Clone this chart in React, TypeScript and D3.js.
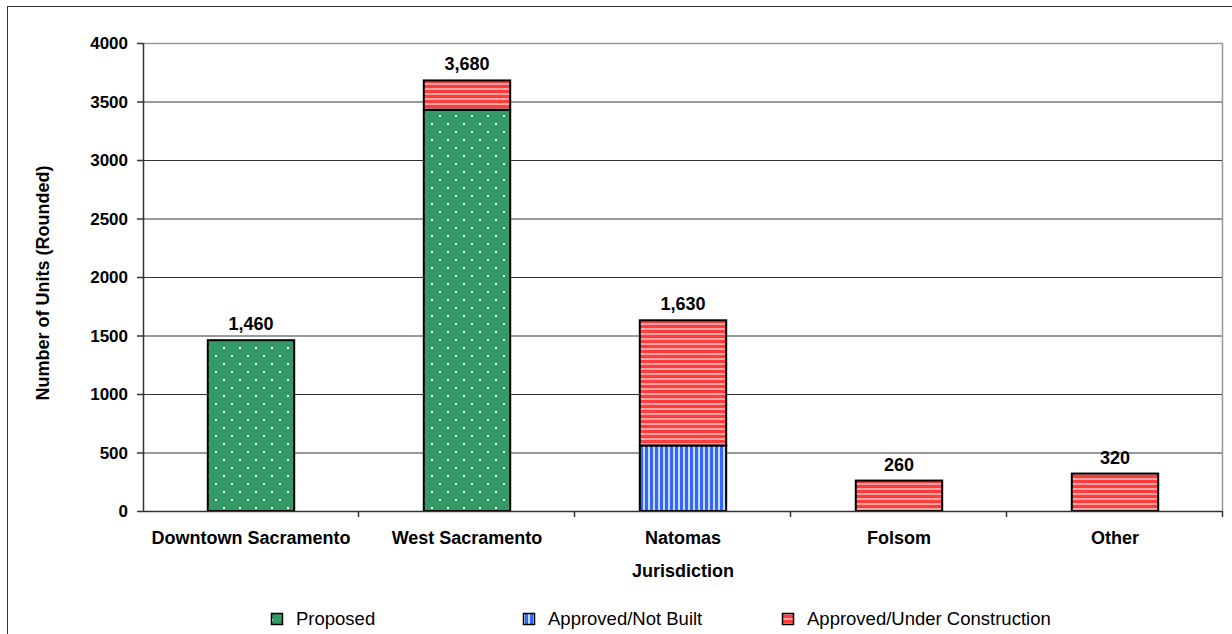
import React from "react";
import * as d3 from "d3";

// Housing units by jurisdiction, split by project status
const categories = ["Downtown Sacramento", "West Sacramento", "Natomas", "Folsom", "Other"];
const seriesNames = ["Proposed", "Approved/Not Built", "Approved/Under Construction"];
const proposed = [1460, 3430, 0, 0, 0];
const approvedNotBuilt = [0, 0, 560, 0, 0];
const approvedUnderConstruction = [0, 250, 1070, 260, 320];
const totals = [1460, 3680, 1630, 260, 320];
const yTicks = [0, 500, 1000, 1500, 2000, 2500, 3000, 3500, 4000];

const W = 1232;
const H = 634;
const margin = { left: 143, right: 9, top: 43, bottom: 123 };
const FONT = "'Liberation Sans', Arial, sans-serif";

export default function App() {
  const x = d3
    .scaleBand<string>()
    .domain(categories)
    .range([margin.left, W - margin.right])
    .paddingInner(0.6)
    .paddingOuter(0.3);
  const band = d3.scaleBand<string>().domain(categories).range([margin.left, W - margin.right]);
  const y = d3.scaleLinear().domain([0, 4000]).range([H - margin.bottom, margin.top]);

  const rows = categories.map((c, i) => ({
    cat: c,
    p: proposed[i],
    nb: approvedNotBuilt[i],
    uc: approvedUnderConstruction[i],
  }));
  const stack = d3.stack<any>().keys(["p", "nb", "uc"])(rows);
  const fills = ["url(#patGreen)", "url(#patBlue)", "url(#patRed)"];

  const x0 = margin.left;
  const x1 = W - margin.right;
  const y0 = y(0);

  return (
    <svg
      width={W}
      height={H}
      style={{ position: "absolute", left: 0, top: 0, background: "#fff" }}
      fontFamily={FONT}
    >
      <defs>
        <pattern id="patGreen" width={16} height={16} patternUnits="userSpaceOnUse">
          <rect width={16} height={16} fill="#339966" />
          <rect x={7} y={3} width={2} height={2} fill="#e8f4ec" />
          <rect x={15} y={11} width={2} height={2} fill="#ffffff" />
          <rect x={-1} y={11} width={2} height={2} fill="#ffffff" />
        </pattern>
        <pattern id="patBlue" width={5} height={5} patternUnits="userSpaceOnUse">
          <rect width={5} height={5} fill="#c9dcff" />
          <rect x={0} width={3} height={5} fill="#3366ff" />
        </pattern>
        <pattern id="patRed" width={5} height={5} patternUnits="userSpaceOnUse">
          <rect width={5} height={5} fill="#ffa3a3" />
          <rect y={0} width={5} height={3} fill="#ff3c3c" />
        </pattern>
      </defs>

      {/* outer chart border */}
      <rect x={7.5} y={6.5} width={W + 10} height={H + 10} fill="none" stroke="#333" strokeWidth={1} />

      {/* gridlines */}
      {yTicks.slice(1, -1).map((t) => (
        <line key={t} x1={x0} x2={x1} y1={y(t) + 0.5} y2={y(t) + 0.5} stroke="#333" strokeWidth={1} />
      ))}
      {/* plot area border top/right */}
      <line x1={x0} x2={x1} y1={y(4000) + 0.5} y2={y(4000) + 0.5} stroke="#999" strokeWidth={1.5} />
      <line x1={x1 - 0.5} x2={x1 - 0.5} y1={y(4000)} y2={y0} stroke="#999" strokeWidth={1.5} />

      {/* bars */}
      {stack.map((s, si) =>
        s.map((d, i) => {
          if (d[1] - d[0] <= 0) return null;
          const cat = categories[i];
          return (
            <rect
              key={`${si}-${i}`}
              x={x(cat)}
              y={y(d[1])}
              width={x.bandwidth()}
              height={y(d[0]) - y(d[1])}
              fill={fills[si]}
              stroke="#000"
              strokeWidth={2}
            />
          );
        })
      )}

      {/* axes */}
      <line x1={x0 + 0.5} x2={x0 + 0.5} y1={y(4000)} y2={y0 + 1} stroke="#333" strokeWidth={1.5} />
      <line x1={x0} x2={x1} y1={y0 + 0.5} y2={y0 + 0.5} stroke="#333" strokeWidth={1.5} />
      {yTicks.map((t) => (
        <g key={t}>
          <line x1={x0 - 6} x2={x0} y1={y(t) + 0.5} y2={y(t) + 0.5} stroke="#333" strokeWidth={1.5} />
          <text
            x={x0 - 15}
            y={y(t)}
            dy="0.36em"
            textAnchor="end"
            fontSize={17}
            fontWeight="bold"
            fill="#000"
          >
            {t}
          </text>
        </g>
      ))}
      {categories.map((c, i) => (
        <g key={c}>
          <line
            x1={(band(c) as number) + band.bandwidth() - 0.5}
            x2={(band(c) as number) + band.bandwidth() - 0.5}
            y1={y0}
            y2={y0 + 6}
            stroke="#333"
            strokeWidth={1.5}
          />
          <text
            x={(band(c) as number) + band.bandwidth() / 2}
            y={y0 + 33}
            textAnchor="middle"
            fontSize={18}
            fontWeight="bold"
            fill="#000"
          >
            {c}
          </text>
          <text
            x={(x(c) as number) + x.bandwidth() / 2}
            y={y(totals[i]) - 10}
            textAnchor="middle"
            fontSize={18}
            fontWeight="bold"
            fill="#000"
          >
            {d3.format(",")(totals[i])}
          </text>
        </g>
      ))}

      {/* axis titles */}
      <text x={(x0 + x1) / 2} y={y0 + 66} textAnchor="middle" fontSize={18} fontWeight="bold" fill="#000">
        Jurisdiction
      </text>
      <text
        transform={`translate(49, ${(y(0) + y(4000)) / 2 + 6}) rotate(-90)`}
        textAnchor="middle"
        fontSize={18}
        fontWeight="bold"
        fill="#000"
      >
        Number of Units (Rounded)
      </text>

      {/* legend */}
      {seriesNames.map((n, i) => {
        const lx = [271, 523, 782][i];
        return (
          <g key={n}>
            <rect x={lx + 0.5} y={613.5} width={11} height={11} fill={fills[i]} stroke="#000" strokeWidth={1.5} />
            <text x={lx + 25} y={625} fontSize={18.5} fill="#000">
              {n}
            </text>
          </g>
        );
      })}
    </svg>
  );
}
